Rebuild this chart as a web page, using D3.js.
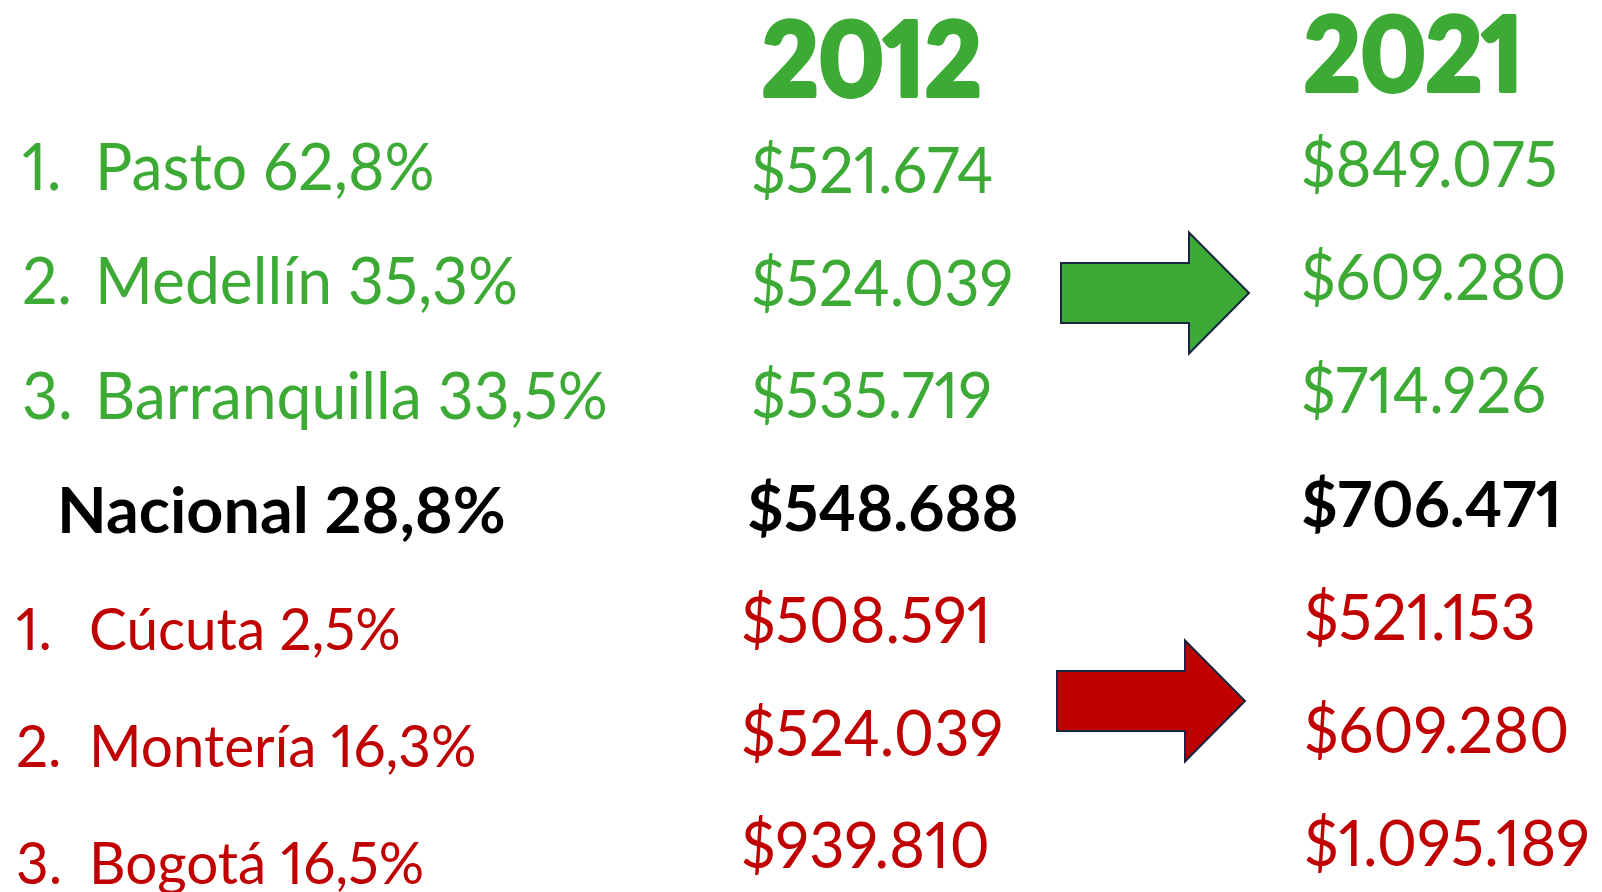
<!DOCTYPE html>
<html>
<head>
<meta charset="utf-8">
<script src="https://cdn.jsdelivr.net/npm/d3@7"></script>
<style>
  html, body { margin: 0; padding: 0; background: #fff; overflow: hidden; }
  text { font-family: Lato, "Open Sans", sans-serif; font-variant-numeric: proportional-nums; font-feature-settings: "pnum" 1; }
</style>
</head>
<body>
<svg id="chart"></svg>
<script>
// datos
const years = ["2012", "2021"];
const ranks = ["1.", "2.", "3.", "", "1.", "2.", "3."];
const cities = ["Pasto", "Medellín", "Barranquilla", "Nacional", "Cúcuta", "Montería", "Bogotá"];
const growth = [62.8, 35.3, 33.5, 28.8, 2.5, 16.3, 16.5];
const groups = ["alto", "alto", "alto", "nacional", "bajo", "bajo", "bajo"];
const values2012 = [521674, 524039, 535719, 548688, 508591, 524039, 939810];
const values2021 = [849075, 609280, 714926, 706471, 521153, 609280, 1095189];
const arrowGroups = ["alto", "bajo"];

const width = 1602, height = 892;
const colors = { alto: "#3DAA35", nacional: "#000000", bajo: "#C00000" };
const labelSize = { alto: 65, nacional: 64, bajo: 59 };
const squeeze = { label: 0.96, bold: 1.01, value: 0.96, valueBold: 0.985, header: 0.96 };

const locale = d3.formatLocale({ decimal: ",", thousands: ".", grouping: [3], currency: ["$", ""] });
const fmtMoney = locale.format("$,");
const fmtPct = locale.format(".1f");

const rows = cities.map((c, i) => ({
  i, rank: ranks[i], city: c, pct: growth[i], group: groups[i],
  v2012: values2012[i], v2021: values2021[i]
}));

const svg = d3.select("#chart").attr("width", width).attr("height", height);

// escalas verticales (línea base de cada fila, por columna)
const yLabel = d3.scaleLinear().domain([0, 3, 6]).range([190, 533, 884]);
const y2012 = d3.scaleLinear().domain([0, 6]).range([193, 868]);
const y2021 = d3.scaleLinear().domain([0, 6]).range([187, 866]);
const yHeader = d3.scaleOrdinal().domain(years).range([96, 91]);
const yArrow = d3.scalePoint().domain(arrowGroups).range([293, 701]);

// escalas horizontales
const xHeader = d3.scaleOrdinal().domain(years).range([762, 1304]);
const xRank = d3.scaleOrdinal().domain(["alto", "bajo"]).range([22, 16]);
const xName = d3.scaleOrdinal().domain(groups).range([95, 57, 89]);
const x2012 = d3.scaleOrdinal().domain(groups).range([751, 747, 741]);
const x2021 = d3.scaleOrdinal().domain(groups).range([1301, 1301, 1304]);

function condense(sel, k) {
  sel.each(function (d) {
    const f = typeof k === "function" ? k(d) : k;
    const w = this.getComputedTextLength();
    d3.select(this).attr("textLength", w * f).attr("lengthAdjust", "spacingAndGlyphs");
  });
}
const isNat = d => d.group === "nacional";

// encabezados
svg.append("g").selectAll("text")
  .data(years)
  .join("text")
  .attr("x", d => xHeader(d))
  .attr("y", d => yHeader(d))
  .attr("font-size", 102)
  .attr("font-weight", 900)
  .attr("fill", colors.alto)
  .attr("stroke", colors.alto)
  .attr("stroke-width", 4)
  .attr("stroke-linejoin", "round")
  .text(d => d)
  .call(condense, squeeze.header);

// etiquetas de ciudades
const labels = svg.append("g");
labels.selectAll("text.rank")
  .data(rows.filter(d => d.rank))
  .join("text")
  .attr("class", "rank")
  .attr("x", d => xRank(d.group))
  .attr("y", d => yLabel(d.i))
  .attr("font-size", d => labelSize[d.group])
  .attr("fill", d => colors[d.group])
  .text(d => d.rank)
  .call(condense, squeeze.label);

labels.selectAll("text.name")
  .data(rows)
  .join("text")
  .attr("class", "name")
  .attr("x", d => xName(d.group))
  .attr("y", d => yLabel(d.i))
  .attr("font-size", d => labelSize[d.group])
  .attr("font-weight", d => isNat(d) ? 700 : 400)
  .attr("fill", d => colors[d.group])
  .text(d => `${d.city} ${fmtPct(d.pct)}%`)
  .call(condense, d => isNat(d) ? squeeze.bold : squeeze.label);

// valores por año
const valueCols = [
  { key: "v2012", x: x2012, y: y2012 },
  { key: "v2021", x: x2021, y: y2021 }
];
valueCols.forEach(col => {
  svg.append("g").selectAll("text")
    .data(rows)
    .join("text")
    .attr("x", d => col.x(d.group))
    .attr("y", d => col.y(d.i))
    .attr("font-size", 64)
    .attr("font-weight", d => isNat(d) ? 700 : 400)
    .attr("fill", d => colors[d.group])
    .text(d => fmtMoney(d[col.key]))
    .call(condense, d => isNat(d) ? squeeze.valueBold : squeeze.value);
});

// flechas
const arrowX = d3.scaleOrdinal().domain(arrowGroups).range([1061, 1057]);
const arrowLen = 188, headLen = 60, shaftH = 60, headH = 121;
function arrowPath(x0, cy) {
  const p = d3.path();
  const xb = x0 + arrowLen - headLen;
  p.moveTo(x0, cy - shaftH / 2);
  p.lineTo(xb, cy - shaftH / 2);
  p.lineTo(xb, cy - headH / 2);
  p.lineTo(x0 + arrowLen, cy);
  p.lineTo(xb, cy + headH / 2);
  p.lineTo(xb, cy + shaftH / 2);
  p.lineTo(x0, cy + shaftH / 2);
  p.closePath();
  return p.toString();
}
svg.append("g").selectAll("path")
  .data(arrowGroups)
  .join("path")
  .attr("d", d => arrowPath(arrowX(d), yArrow(d)))
  .attr("fill", d => colors[d])
  .attr("stroke", "#17253f")
  .attr("stroke-width", 2);
</script>
</body>
</html>
